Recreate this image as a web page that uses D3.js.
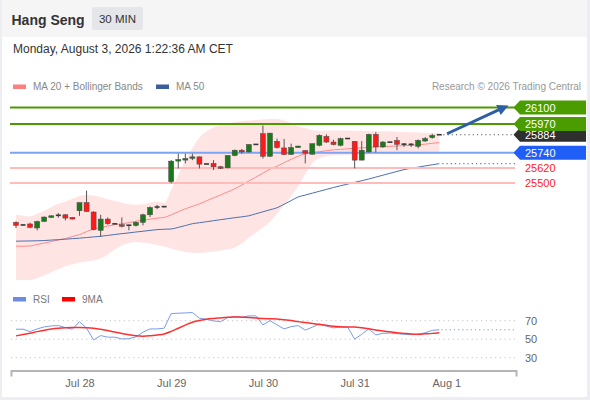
<!DOCTYPE html>
<html><head><meta charset="utf-8">
<script src="https://cdn.jsdelivr.net/npm/d3@7"></script>
<style>body{margin:0;background:#fff;font-family:"Liberation Sans",Arial,sans-serif}</style>
</head><body><svg id="c" width="590" height="400"></svg>
<script>
// ---------- data ----------
const title = "Hang Seng";
const period = "30 MIN";
const stamp = "Monday, August 3, 2026 1:22:36 AM CET";
const tickLabels = ["Jul 28","Jul 29","Jul 30","Jul 31","Aug 1"];
const tickIndex = [9,22,35,48,61];
const open  = [25187,25168,25174,25142,25194,25226,25241,25247,25226,25279,25344,25269,25123,25213,25177,25168,25162,25163,25187,25247,25307,25310,25510,25676,25687,25697,25708,25653,25656,25629,25621,25719,25761,25747,25805,25892,25713,25832,25779,25727,25782,25758,25729,25800,25871,25826,25800,25852,25832,25682,25747,25887,25787,25823,25839,25807,25809,25792,25834,25861,25883];
const high  = [25195,25172,25184,25200,25234,25243,25261,25253,25228,25344,25439,25275,25247,25226,25180,25226,25168,25194,25255,25313,25326,25316,25682,25734,25734,25734,25710,25655,25682,25637,25719,25766,25771,25808,25809,25958,25897,25853,25850,25813,25797,25761,25813,25887,25887,25845,25861,25856,25834,25834,25892,25905,25834,25827,25866,25818,25818,25847,25866,25892,25886];
const low   = [25142,25162,25142,25123,25190,25224,25224,25202,25211,25239,25273,25123,25071,25168,25172,25147,25123,25153,25163,25229,25292,25306,25498,25616,25656,25682,25616,25649,25603,25611,25616,25713,25734,25742,25803,25695,25708,25774,25721,25725,25780,25656,25727,25792,25818,25800,25792,25850,25616,25682,25742,25742,25779,25821,25761,25787,25787,25776,25828,25853,25882];
const close = [25163,25166,25147,25194,25229,25239,25243,25221,25213,25344,25273,25129,25213,25176,25175,25155,25164,25187,25247,25305,25309,25312,25674,25687,25695,25708,25650,25651,25629,25616,25719,25761,25747,25806,25807,25713,25897,25782,25727,25782,25794,25737,25813,25879,25826,25806,25853,25854,25682,25761,25887,25787,25826,25825,25808,25809,25807,25839,25853,25879,25884];
const ma20  = [24997,24997,24999,25011,25022,25034,25046,25058,25074,25089,25113,25133,25145,25157,25168,25176,25184,25196,25204,25212,25220,25226,25247,25271,25295,25314,25334,25358,25382,25405,25429,25453,25484,25516,25547,25579,25610,25634,25662,25689,25713,25733,25741,25749,25757,25764,25768,25772,25776,25780,25784,25787,25790,25792,25794,25798,25800,25804,25809,25816,25821];
const bbUpper = [25247,25239,25234,25255,25279,25307,25334,25350,25374,25397,25405,25401,25389,25370,25358,25342,25330,25326,25330,25342,25350,25342,25445,25563,25682,25776,25863,25911,25942,25962,25974,25986,25993,25997,26001,26005,26009,26009,25997,25974,25952,25935,25920,25915,25916,25917,25917,25916,25915,25914,25913,25912,25911,25910,25908,25906,25904,25902,25900,25898,25896];
const bbLower = [24718,24718,24726,24742,24766,24789,24813,24837,24853,24868,24876,24884,24900,24932,24971,25003,25022,25030,25026,25018,25007,24995,24979,24963,24951,24945,24943,24947,24955,24963,24971,24987,25018,25066,25105,25145,25192,25255,25326,25397,25476,25571,25660,25697,25713,25721,25722,25724,25725,25726,25727,25728,25728,25729,25729,25730,25730,25731,25731,25732,25732];
const ma50  = [25037,25038,25039,25040,25042,25046,25049,25053,25057,25061,25066,25071,25076,25083,25090,25097,25103,25110,25116,25123,25129,25132,25134,25147,25161,25176,25184,25192,25200,25208,25216,25224,25231,25239,25255,25271,25287,25303,25331,25360,25389,25404,25419,25434,25449,25464,25478,25491,25505,25518,25532,25547,25562,25577,25592,25607,25617,25626,25636,25645,25654];
const rsi   = [60.8,60.8,58.2,61.1,63.3,64.4,64.7,62.6,60.8,69.0,61.9,49.2,53.9,52.2,52.2,50.3,50.6,52.5,57.6,61.1,61.1,61.9,77.7,78.1,78.4,78.8,72.7,71.6,69.8,69.0,73.4,74.4,73.8,75.2,75.2,65.5,70.1,65.5,61.1,63.6,64.7,59.8,63.0,66.5,64.0,62.3,63.0,63.3,50.0,55.3,61.2,54.6,56.3,56.7,56.0,55.3,54.9,55.3,57.0,59.5,60.2];
const rsiMA = [53.6,55.0,56.5,58.2,59.7,61.0,61.9,62.4,62.6,62.6,62.4,61.9,60.8,59.3,57.7,56.1,54.8,53.6,53.2,53.6,54.5,55.7,58.5,61.9,65.2,68.4,70.2,71.6,72.4,73.0,73.6,74.1,73.8,73.4,72.9,72.3,72.1,71.9,71.0,70.1,69.0,68.0,67.0,66.0,65.0,64.0,63.5,63.3,63.3,62.3,61.2,60.0,58.8,58.0,57.0,56.3,55.6,55.3,55.8,56.3,57.0];
const rsiTicks = [30,50,70];
const levels = [26100,25970,25740,25620,25500];
const levelKinds = ["res","res","pivot","sup","sup"];
const lastPrice = 25884;
const arrowFrom = {i:61.1, p:25892};
const arrowTo   = {i:69.8, p:26117};
const legendMain = ["MA 20 + Bollinger Bands","MA 50"];
const legendRsi = ["RSI","9MA"];
const credit = "Research \u00a9 2026 Trading Central";

// ---------- drawing ----------
const N = close.length;
const idx = d3.range(N);
const svg = d3.select("#c");
const x = d3.scaleLinear().domain([-0.709, 70.87]).range([11, 516]);
const y = d3.scaleLinear().domain([25500, 26100]).range([183, 107.6]);
const yr = d3.scaleLinear().domain([30, 70]).range([357.7, 320.7]);

// frame
svg.append("rect").attr("width",590).attr("height",400).attr("fill","#eceef1");
svg.append("rect").attr("x",2).attr("y",0).attr("width",585).attr("height",397).attr("fill","#fff");
svg.append("rect").attr("x",2).attr("y",0).attr("width",585).attr("height",37).attr("fill","#f5f5f6");

// header
svg.append("text").attr("x",11.5).attr("y",24.5).attr("font-size",14).attr("font-weight","bold").attr("fill","#333").text(title);
svg.append("rect").attr("x",92).attr("y",7).attr("width",51).attr("height",23).attr("rx",2).attr("fill","#e4e6e9");
svg.append("text").attr("x",117.5).attr("y",23.2).attr("text-anchor","middle").attr("font-size",11.5).attr("fill","#333").text(period);
svg.append("text").attr("x",13).attr("y",53).attr("font-size",12).attr("fill","#333").text(stamp);

// legends
const lgColors = ["#ff7f7f","#3c5fa0"], lgX = [13,156];
legendMain.forEach((t,k)=>{
  svg.append("rect").attr("x",lgX[k]).attr("y",84.5).attr("width",13).attr("height",4.5).attr("fill",lgColors[k]);
  svg.append("text").attr("x",lgX[k]+20).attr("y",90).attr("font-size",10).attr("fill","#888").text(t);
});
svg.append("text").attr("x",581).attr("y",90).attr("text-anchor","end").attr("font-size",10).attr("fill","#999").text(credit);
const lrColors = ["#6f8de0","#ff0000"], lrX = [13,62];
legendRsi.forEach((t,k)=>{
  svg.append("rect").attr("x",lrX[k]).attr("y",297).attr("width",13).attr("height",4.5).attr("fill",lrColors[k]);
  svg.append("text").attr("x",lrX[k]+20).attr("y",302.5).attr("font-size",10).attr("fill","#777").text(t);
});

// clip
svg.append("clipPath").attr("id","plot").append("rect").attr("x",10).attr("y",95).attr("width",506).attr("height",185);
const g = svg.append("g").attr("clip-path","url(#plot)");

// bollinger band
g.append("path").datum(idx)
  .attr("d", d3.area().curve(d3.curveMonotoneX).x(i=>x(i)).y0(i=>y(bbLower[i])).y1(i=>y(bbUpper[i])))
  .attr("fill","#ffe4e4");

// level lines
const lvStyle = {res:{c:"#4c9a00",box:"#4a9c00"}, pivot:{c:"#7aa5f5",box:"#1f5ef7"}, sup:{c:"#ffbaba",box:null}};
levels.forEach((p,k)=>{
  const st = lvStyle[levelKinds[k]];
  svg.append("line").attr("x1",10).attr("x2",515).attr("y1",y(p)).attr("y2",y(p))
    .attr("stroke",st.c).attr("stroke-width",2);
});

// MA lines
g.append("path").datum(idx).attr("d", d3.line().curve(d3.curveMonotoneX).x(i=>x(i)).y(i=>y(ma20[i])))
  .attr("fill","none").attr("stroke","#ff8a8a").attr("stroke-width",1);
g.append("path").datum(idx).attr("d", d3.line().curve(d3.curveMonotoneX).x(i=>x(i)).y(i=>y(ma50[i])))
  .attr("fill","none").attr("stroke","#4d6fb0").attr("stroke-width",1);
svg.append("line").attr("x1",x(N-1)+3).attr("x2",515).attr("y1",y(ma50[N-1])).attr("y2",y(ma50[N-1]))
  .attr("stroke","#5a7bc0").attr("stroke-width",1.2).attr("stroke-dasharray","1.2,3");
svg.append("line").attr("x1",x(N-1)+4).attr("x2",515).attr("y1",y(lastPrice)).attr("y2",y(lastPrice))
  .attr("stroke","#555").attr("stroke-width",1.2).attr("stroke-dasharray","1.2,3");

// candles
const cg = svg.append("g");
idx.forEach(i=>{
  const o=open[i], c=close[i];
  const doji = Math.abs(c-o) <= 4;
  const col = doji ? "#3a3a3a" : (c>o ? "#1a7a1a" : "#ff1a1a");
  cg.append("line").attr("x1",x(i)).attr("x2",x(i)).attr("y1",y(high[i])).attr("y2",y(low[i]))
    .attr("stroke","#555").attr("stroke-width",1);
  const top = y(Math.max(o,c)), h = Math.max(1.6, Math.abs(y(o)-y(c)));
  cg.append("rect").attr("x",x(i)-2.5).attr("width",5).attr("y",doji? y(c)-0.8 : top).attr("height",h)
    .attr("fill",col).attr("stroke",doji?"none":"#4a4a4a").attr("stroke-width",0.5);
});

// arrow
(function(){
  const x0=x(arrowFrom.i), y0=y(arrowFrom.p), x1=x(arrowTo.i), y1=y(arrowTo.p);
  const dx=x1-x0, dy=y1-y0, L=Math.hypot(dx,dy), ux=dx/L, uy=dy/L, nx=-uy, ny=ux;
  const hl=11, hw=5.5;
  svg.append("line").attr("x1",x0).attr("y1",y0).attr("x2",x1-ux*(hl-2)).attr("y2",y1-uy*(hl-2))
    .attr("stroke","#2e5fa6").attr("stroke-width",3);
  const bx=x1-ux*hl, by=y1-uy*hl;
  svg.append("path").attr("d",`M${x1},${y1}L${bx+nx*hw},${by+ny*hw}L${bx-nx*hw},${by-ny*hw}Z`).attr("fill","#2e5fa6");
})();

// price labels
function box(p, fill, txt){
  const cy=y(p);
  svg.append("path").attr("d",`M513.5,${cy}L520,${cy-7}H586V${cy+7}H520Z`).attr("fill",fill);
  svg.append("text").attr("x",525).attr("y",cy+4).attr("font-size",11).attr("fill",txt).text(p);
}
box(lastPrice,"#2f2f2f","#fff");
levels.forEach((p,k)=>{
  const st = lvStyle[levelKinds[k]];
  if(st.box) box(p, st.box, "#fff");
  else svg.append("text").attr("x",525).attr("y",y(p)+4).attr("font-size",11).attr("fill","#ff1a1a").text(p);
});

// RSI panel
rsiTicks.forEach(v=>{
  svg.append("line").attr("x1",11).attr("x2",515).attr("y1",yr(v)).attr("y2",yr(v))
    .attr("stroke","#c4c4c4").attr("stroke-width",1).attr("stroke-dasharray","1.2,3.5");
});
const ra = svg.append("g").attr("transform","translate(515,0)")
  .call(d3.axisRight(yr).tickValues(rsiTicks).tickSize(0).tickPadding(10));
ra.select(".domain").remove();
ra.selectAll("text").attr("font-size",11).attr("fill","#666").attr("font-family","Liberation Sans, Arial, sans-serif");

svg.append("path").datum(idx).attr("d", d3.line().x(i=>x(i)).y(i=>yr(rsi[i])))
  .attr("fill","none").attr("stroke","#7b9be8").attr("stroke-width",1);
svg.append("line").attr("x1",x(N-1)+2).attr("x2",515).attr("y1",yr(rsi[N-1])).attr("y2",yr(rsi[N-1]))
  .attr("stroke","#7b9be8").attr("stroke-width",1.2).attr("stroke-dasharray","1.2,3");
svg.append("path").datum(idx).attr("d", d3.line().curve(d3.curveMonotoneX).x(i=>x(i)).y(i=>yr(rsiMA[i])))
  .attr("fill","none").attr("stroke","#ff3030").attr("stroke-width",1.5);

// x axis
const xa = svg.append("g").attr("transform","translate(0,370.5)")
  .call(d3.axisBottom(x).tickValues(tickIndex).tickFormat((d,k)=>tickLabels[k]).tickSizeInner(0).tickSizeOuter(6).tickPadding(9));
xa.select(".domain").attr("stroke","#b5b5b5").attr("stroke-width",2).attr("transform","scale(1,1)");
xa.selectAll("text").attr("font-size",11).attr("fill","#666").attr("font-family","Liberation Sans, Arial, sans-serif");
</script></body></html>
